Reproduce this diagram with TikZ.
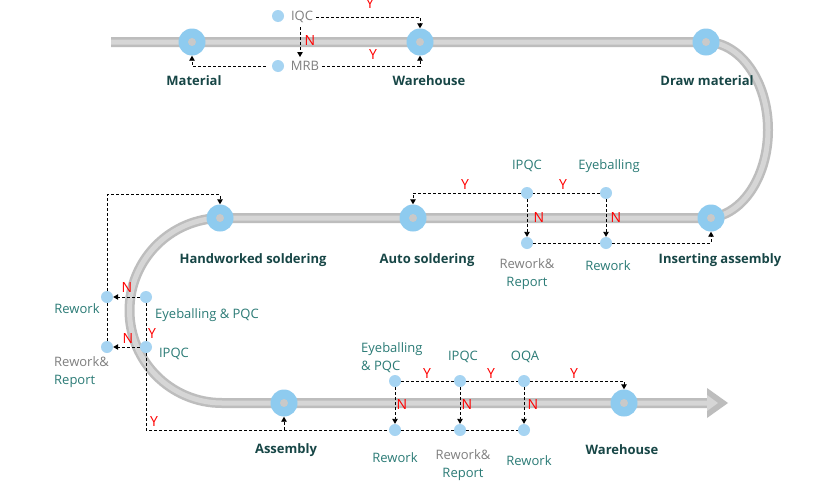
\documentclass[tikz,border=0pt]{standalone}
\usepackage{fontspec}
\setmainfont{Open Sans}
\usetikzlibrary{arrows.meta,calc}
\definecolor{trackA}{HTML}{BDBDBD}
\definecolor{trackB}{HTML}{D6D6D6}
\definecolor{bigblue}{HTML}{8ECBEF}
\definecolor{innergray}{HTML}{C9C9C9}
\definecolor{dotblue}{HTML}{A6D4F2}
\definecolor{tealtext}{HTML}{2B7B76}
\definecolor{darktext}{HTML}{174646}
\definecolor{graytext}{HTML}{7F7F7F}
\definecolor{yesno}{HTML}{FF0000}
\tikzset{
  bigc/.style={circle,fill=bigblue,minimum size=27pt,inner sep=0pt},
  sdot/.style={circle,fill=dotblue,minimum size=12pt,inner sep=0pt},
  mainlab/.style={inner sep=0pt,text=darktext,font=\fontsize{13}{18}\selectfont\bfseries},
  sublab/.style={inner sep=0pt,text=tealtext,font=\fontsize{13}{18}\selectfont},
  graylab/.style={inner sep=0pt,text=graytext,font=\fontsize{13}{18}\selectfont},
  yn/.style={inner sep=0pt,text=yesno,font=\fontsize{14}{18}\selectfont},
  dl/.style={black,line width=0.9pt,dash pattern=on 3pt off 2pt},
  dla/.style={dl,-{Triangle[length=5pt,width=5.5pt]}},
}
\begin{document}
\begin{tikzpicture}[x=1pt,y=1pt]
\useasboundingbox (0,0) rectangle (840,-482);
\fill[white] (0,0) rectangle (840,-482);
% track
\foreach \w/\c in {10/trackA,5/trackB}{
\draw[line width=\w pt,\c] (111,-42) -- (706,-42)
  arc[start angle=90,end angle=-90,x radius=62pt,y radius=88pt]
  -- (222,-218) arc[start angle=90,end angle=270,radius=92.5pt] -- (708,-403);
}
\fill[trackA] (707,-388) -- (728,-403) -- (707,-418) -- cycle;
\fill[trackB] (707,-395) -- (718,-403) -- (707,-411) -- cycle;
% big stations
\node[bigc] (mat) at (192,-42) {};
\node[bigc] (wh1) at (420,-42) {};
\node[bigc] (draw) at (706,-42) {};
\node[bigc] (ins) at (711,-218) {};
\node[bigc] (auto) at (413,-218) {};
\node[bigc] (hand) at (220,-218) {};
\node[bigc] (asm) at (284,-403) {};
\node[bigc] (wh2) at (624,-403) {};
\foreach \n in {mat,wh1,draw,ins,auto,hand,asm,wh2}{\fill[innergray] (\n) circle (4pt);}
% station labels
\node[mainlab] (lmat) at (194,-81) {Material};
\node[mainlab] (lwh1) at (429,-81) {Warehouse};
\node[mainlab] (ldraw) at (707,-81) {Draw material};
\node[mainlab] (lins) at (720,-260) {Inserting assembly};
\node[mainlab] (lauto) at (427,-260) {Auto soldering};
\node[mainlab] (lhand) at (253,-260) {Handworked soldering};
\node[mainlab] (lasm) at (286,-450) {Assembly};
\node[mainlab] (lwh2) at (622,-450) {Warehouse};
% small dots
\node[sdot] (iqc) at (278,-16) {};
\node[sdot] (mrb) at (278,-66) {};
\node[sdot] (ipqc1) at (527,-193) {};
\node[sdot] (eb1) at (606,-193) {};
\node[sdot] (rr1) at (527,-243) {};
\node[sdot] (rw1) at (606,-243) {};
\node[sdot] (rwl) at (107,-297) {};
\node[sdot] (epl) at (146,-297) {};
\node[sdot] (rrl) at (107,-347) {};
\node[sdot] (ipl) at (146,-347) {};
\node[sdot] (epb) at (395,-381) {};
\node[sdot] (ipb) at (460,-381) {};
\node[sdot] (oqa) at (524,-381) {};
\node[sdot] (rwb1) at (395,-430) {};
\node[sdot] (rrb) at (460,-430) {};
\node[sdot] (rwb2) at (524,-430) {};
% small labels
\node[graylab] (liqc) at (302,-17) {IQC};
\node[graylab] (lmrb) at (305,-66) {MRB};
\node[sublab] (lipqc1) at (527,-166) {IPQC};
\node[sublab] (leb1) at (609,-166) {Eyeballing};
\node[sublab,align=center] (lrr1) at (527,-274) {{\color{graytext}Rework\&}\\Report};
\node[sublab] (lrw1) at (608,-266) {Rework};
\node[sublab] (lrwl) at (77,-309) {Rework};
\node[sublab] (lepl) at (207,-315) {Eyeballing \& PQC};
\node[sublab] (lipl) at (174,-354) {IPQC};
\node[sublab,align=left,anchor=west] (lrrl) at (54,-372) {{\color{graytext}Rework\&}\\Report};
\node[sublab,align=left,anchor=west] (lepb) at (361,-358) {Eyeballing\\\& PQC};
\node[sublab] (lipb) at (463,-357) {IPQC};
\node[sublab] (loqa) at (525,-357) {OQA};
\node[sublab] (lrwb1) at (395,-458) {Rework};
\node[sublab,align=center] (lrrb) at (463,-465) {{\color{graytext}Rework\&}\\Report};
\node[sublab] (lrwb2) at (529,-461) {Rework};
% top connectors
\coordinate (n1a) at (300,-27);
\coordinate (n1b) at (300,-57);
\draw[dla] ([xshift=3pt]liqc.east) -| (wh1.north);
\draw[dla] (n1a) -- (n1b);
\draw[dla] ([xshift=-6pt]mrb.west) -| (mat.south);
\draw[dla] ([xshift=3pt]lmrb.east) -| (wh1.south);
\node[yn] at (370,-4) {Y};
\node[yn] at (310,-41) {N};
\node[yn] at (373,-55) {Y};
% middle right connectors
\draw[dl] (eb1.west) -- (ipqc1.east);
\draw[dla] (ipqc1.west) -| (auto.north);
\draw[dla] (ipqc1.south) -- (rr1.north);
\draw[dla] (eb1.south) -- (rw1.north);
\draw[dl] (rr1.east) -- (rw1.west);
\draw[dla] (rw1.east) -| (ins.south);
\node[yn] at (465,-184) {Y};
\node[yn] at (563,-184) {Y};
\node[yn] at (539,-217) {N};
\node[yn] at (616,-217) {N};
% left connectors
\draw[dla] (epl.west) -- (rwl.east);
\draw[dla] (ipl.west) -- (rrl.east);
\draw[dl] (ipl.north) -- (epl.south);
\draw[dl] (rrl.north) -- (rwl.south);
\draw[dla] (rwl.north) |- ([yshift=9.5pt]hand.north) -- (hand.north);
\draw[dl] (ipl.south) |- (rwb1.west);
\draw[dla] (asm.south |- rwb1.west) -- (asm.south);
\node[yn] at (127,-287) {N};
\node[yn] at (128,-338) {N};
\node[yn] at (152,-333) {Y};
\node[yn] at (154,-421) {Y};
% bottom connectors
\draw[dl] (epb.east) -- (ipb.west);
\draw[dl] (ipb.east) -- (oqa.west);
\draw[dla] (oqa.east) -| (wh2.north);
\draw[dla] (epb.south) -- (rwb1.north);
\draw[dla] (ipb.south) -- (rrb.north);
\draw[dla] (oqa.south) -- (rwb2.north);
\draw[dl] (rwb1.east) -- (rrb.west);
\draw[dl] (rrb.east) -- (rwb2.west);
\node[yn] at (427,-373) {Y};
\node[yn] at (491,-373) {Y};
\node[yn] at (574,-373) {Y};
\node[yn] at (402,-404) {N};
\node[yn] at (467,-404) {N};
\node[yn] at (533,-404) {N};
\end{tikzpicture}
\end{document}
